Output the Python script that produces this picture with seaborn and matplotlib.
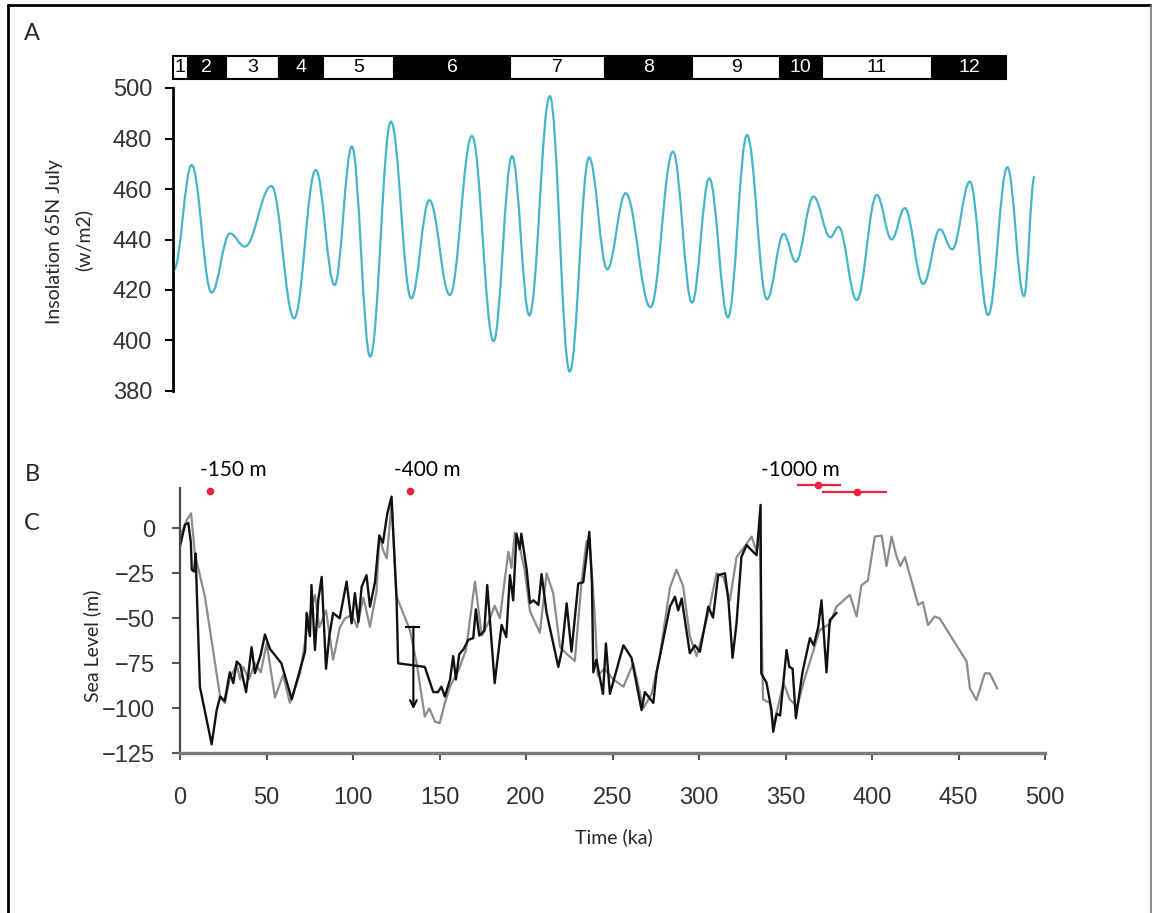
import numpy as np
import pandas as pd
import matplotlib
matplotlib.use("Agg")
import matplotlib.pyplot as plt
import seaborn as sns
from matplotlib.path import Path
from matplotlib.patches import PathPatch
from matplotlib.lines import Line2D

# ---------------- data ----------------
# Marine isotope stages (boundaries in ka) and labels
stage_bounds = [0, 8.4, 30.6, 61, 86.5, 127.7, 194.8, 249.7, 300, 350.9, 374.9, 438.7, 481.5]
stage_labels = ["1", "2", "3", "4", "5", "6", "7", "8", "9", "10", "11", "12"]

# Insolation 65N July: turning points (ka, W/m2)
ins_t = [0.5, 10.8, 22.3, 32.9, 41.5, 56.9, 70, 82.5, 93.4, 103.4, 114, 126, 137.7, 148.2,
         160, 172.8, 185.3, 196, 206, 217.8, 229.3, 240.5, 251, 261.6, 276, 289, 300, 310,
         320.8, 331.8, 343.3, 353, 360, 370.2, 380, 384.7, 395.2, 406.8, 415.4, 423, 433.7,
         443.3, 450.4, 460.6, 471.2, 482.3, 491.9, 498]
ins_v = [428, 469.5, 419, 442.4, 437.2, 461.2, 408.8, 467.5, 422, 476.8, 393.6, 486.7, 416.7,
         455.6, 418, 481, 399.8, 473, 410, 496.8, 387.7, 472.5, 428.2, 458.3, 413.2, 474.8,
         415, 464.2, 409.2, 481.4, 416.3, 442.2, 431.2, 457, 440.9, 445, 416, 457.6, 440,
         452.4, 422.4, 444, 436.1, 462.9, 410.1, 468.6, 417.6, 465]

# Sea level record (black)
black_t = [0, 2.9, 4.8, 6.3, 6.8, 8.2, 9, 11.5, 18.3, 21.2, 23.2, 25.8, 28.8, 30.8, 32.8, 34.8,
           38.2, 41.4, 43.3, 46.7, 49.1, 52, 58.6, 64.6, 68.4, 72.3, 73.2, 75.1, 76, 78, 79.9,
           81.9, 84.4, 86.3, 88.5, 92.3, 96.3, 99.2, 101.1, 103.1, 105, 107.8, 109.8, 112.7,
           115.2, 117.3, 119.8, 122.3, 123.3, 125.2, 126.1, 141.5, 146.4, 149.1, 151.1, 153.1,
           156.1, 157.9, 159.5, 161.4, 164, 166.6, 169.5, 171, 173, 175.9, 177.6, 181.9, 185.9,
           188.6, 190.7, 192.6, 194.5, 196.4, 197.3, 200.4, 202.3, 204.3, 207.2, 209, 211.9,
           218.7, 220.7, 223.5, 226.3, 230.2, 233.1, 236.6, 238.1, 238.9, 240.7, 244.5, 246.2,
           248.5, 256.3, 261, 266.8, 268.7, 273.6, 275.4, 283.2, 286.1, 288, 290, 294.7, 297.6,
           300.5, 305.4, 308.1, 311.1, 315, 317.1, 319.4, 321.7, 324.5, 327.5, 331.3, 333.3,
           335.6, 336, 339, 341.9, 342.9, 344.9, 346.9, 350.6, 352.2, 354.1, 356, 359.8, 364.1,
           366.3, 368.9, 370.8, 373.7, 375.6, 379.5]
black_sl = [-10, 2, 3, -8, -23, -24, -14, -88, -120, -101, -93.5, -96, -80, -86, -74, -76,
            -91, -66, -80.5, -70, -59, -67, -75, -95, -82, -68.5, -47, -60, -31.5, -67.6, -40,
            -27, -78, -60, -47, -50, -29.6, -52.8, -36, -52, -32.5, -26, -43.5, -30,
            -4, -8, 8, 17.6, -3, -40, -75, -77, -91, -91, -88, -93.5,
            -84, -71, -84, -70, -67, -62, -61, -45, -59.6, -57, -31.5, -86, -53.7,
            -60.4, -26, -40, -3, -11.5, -3, -23, -41.5, -40, -42.6, -25.4, -47,
            -77, -68, -41.7, -68.5, -30.6, -30, -2, -30, -80, -73, -92, -64,
            -92, -65, -72, -101, -91, -97, -80.6, -43.5, -38, -45.6, -39, -69.4, -65,
            -68.6, -43.5, -49.6, -26, -25, -41, -72, -52.6, -16, -9.3, -13, -15,
            13, -80.6, -85.7, -101, -113, -103, -104, -67.6, -77, -78, -105.5, -80, -61,
            -65, -55, -40, -80, -51, -47]

# Sea level record (grey)
grey_t = [0, 3.9, 6.4, 8.6, 14.4, 23.2, 26, 28.8, 32.8, 34.8, 36.6, 39.8, 43.3, 46.7, 50.1,
          54.9, 59.6, 63.5, 69.4, 74.2, 78, 80.5, 84.4, 88.5, 92.4, 95.4, 99.4, 102.4, 106,
          109.8, 113.6, 115.3, 117.3, 119.5, 122.3, 125.2, 132.9, 136.8, 141.5, 144.1, 147.4,
          150.1, 153.1, 156.1, 161.4, 165.3, 170.5, 172.5, 174.5, 178.4, 181.9, 184.9, 189.8,
          191.6, 193.5, 195.9, 199.2, 202.3, 208, 211.9, 215.7, 219.7, 223.7, 228.2, 232.1,
          235, 237.1, 239.6, 241.5, 245.2, 250.5, 256.3, 262, 267.8, 272.6, 277.3, 283.2, 287,
          290.8, 294.7, 298.6, 303.4, 306.2, 310.1, 314, 317.9, 321.7, 326.5, 330.4, 333.3,
          335.2, 337, 340.9, 342.9, 348.9, 352.4, 356.8, 360.6, 364.5, 369.8, 375.6, 379.5,
          385.3, 387.2, 391.1, 393.9, 397.6, 401.6, 405.6, 408.4, 411.3, 414, 416.3, 419,
          426.7, 429.4, 432.4, 436.2, 439.1, 454.7, 456.6, 460.4, 465.2, 468.1, 472.4]
grey_sl = [-4.6, 4.6, 8.3, -14, -38, -93.5, -97, -83, -76, -84, -77, -84, -75, -80, -64,
           -94, -81.5, -97, -80.6, -51, -37, -55, -45.6, -73, -55, -50, -48, -55, -38.5,
           -54.7, -35, -4, -12, -16.7, 14, -38, -56.5, -75, -104.6, -100, -107.4,
           -108.3, -97, -88, -78, -67.6, -29.6, -45, -59.6, -52, -43, -50, -13,
           -22, -2.4, -8.3, -23, -46, -58, -25, -36, -66, -70, -73.7, -30,
           -7, -12, -46, -82, -78, -84, -88, -75, -100, -92, -71, -33, -23,
           -32, -60, -71, -54.6, -43.5, -25, -27, -40, -16, -10, -4.6, -13,
           -4, -95, -97, -110, -86, -95, -99, -85, -73, -56.5, -53, -43.5,
           -38.5, -37, -49, -31.7, -29, -4.6, -4, -21, -4.6, -15, -21, -16,
           -42.6, -41, -53.7, -49, -50, -74, -89, -95.4, -80.6, -80.6, -89]

# Paleo shoreline markers (B)
dot_t = [17.3, 133.0]
dot_sl = [20.7, 20.7]
bar_t = [369.0, 391.2]
bar_sl = [24.0, 20.0]
bar_lo = [12.5, 19.9]
bar_hi = [13.0, 17.3]
depth_labels = ["-150 m", "-400 m", "-1000 m"]
depth_label_t = [30.6, 142.8, 358.4]

# Correction marker near 135 ka
corr_t = 134.9
corr_top = -54.6
corr_bottom = -100.5
corr_cap = [130.0, 139.0]

# ---------------- figure ----------------
sns.set_theme(style="white")
plt.rcParams["font.family"] = ["Liberation Sans", "DejaVu Sans"]

W, H = 1152, 913
fig = plt.figure(figsize=(W / 100, H / 100), dpi=100)

def box(l, t, r, b):
    return [l / W, 1 - b / H, (r - l) / W, (b - t) / H]

ax_top = fig.add_axes(box(173, 88, 1038, 391))
ax_stage = fig.add_axes(box(173, 56, 1038, 79))
ax_bot = fig.add_axes(box(180, 488, 1045, 753.3))

tick_col = "#333333"
label_font = ["Lato", "DejaVu Sans"]

# ---- Panel A: insolation ----
teal = "#45b5ca"
k = 0.38
verts = [(ins_t[0], ins_v[0])]
codes = [Path.MOVETO]
for i in range(len(ins_t) - 1):
    dx = ins_t[i + 1] - ins_t[i]
    verts += [(ins_t[i] + k * dx, ins_v[i]), (ins_t[i + 1] - k * dx, ins_v[i + 1]),
              (ins_t[i + 1], ins_v[i + 1])]
    codes += [Path.CURVE4] * 3
ax_top.add_patch(PathPatch(Path(verts, codes), facecolor="none", edgecolor=teal, lw=1.6))
ax_top.set_xlim(0, 500)
ax_top.set_ylim(380, 500)
ax_top.set_yticks(np.arange(380, 501, 20))
ax_top.set_xticks([])
for s in ["top", "right", "bottom"]:
    ax_top.spines[s].set_visible(False)
ax_top.spines["left"].set_color("black")
ax_top.spines["left"].set_linewidth(2)
ax_top.tick_params(axis="y", direction="out", length=6, width=1.5, color="black",
                   labelsize=17, labelcolor=tick_col, pad=9, left=True)
ax_top.patch.set_alpha(0)

# ---- Stage bar ----
starts = stage_bounds[:-1]
widths = np.diff(stage_bounds)
cols = ["white" if i % 2 == 0 else "black" for i in range(len(starts))]
ax_stage.barh(y=0, width=widths, left=starts, height=1, color=cols,
              edgecolor="black", linewidth=1.5, clip_on=False)
for i, lab in enumerate(stage_labels):
    ax_stage.text(starts[i] + widths[i] / 2, -0.02, lab, ha="center", va="center",
                  fontsize=14, color=("black" if cols[i] == "white" else "white"),
                  family=["Liberation Sans Narrow", "Liberation Sans"])
ax_stage.set_xlim(0, 500)
ax_stage.set_ylim(-0.5, 0.5)
ax_stage.axis("off")

# ---- Panel C: sea level ----
df_grey = pd.DataFrame({"Time (ka)": grey_t, "Sea Level (m)": grey_sl})
df_black = pd.DataFrame({"Time (ka)": black_t, "Sea Level (m)": black_sl})
sns.lineplot(data=df_grey, x="Time (ka)", y="Sea Level (m)", ax=ax_bot, color="#8c8c8c",
             lw=1.6, sort=False, estimator=None)
sns.lineplot(data=df_black, x="Time (ka)", y="Sea Level (m)", ax=ax_bot, color="#111111",
             lw=1.7, sort=False, estimator=None)

# correction arrow
ax_bot.hlines(corr_top, corr_cap[0], corr_cap[1], color="black", lw=1.5)
ax_bot.annotate("", xy=(corr_t, corr_bottom), xytext=(corr_t, corr_top),
                arrowprops=dict(arrowstyle="->", color="black", lw=1.5,
                                shrinkA=0, shrinkB=0, mutation_scale=12))

# shoreline markers (B)
red = "#e8243c"
ax_bot.plot(dot_t, dot_sl, "o", color=red, ms=4.5, clip_on=False)
ax_bot.errorbar(bar_t, bar_sl, xerr=[bar_lo, bar_hi], fmt="o", color=red, ms=4.5,
                lw=1.6, capsize=0, clip_on=False)
for lab, t in zip(depth_labels, depth_label_t):
    ax_bot.text(t, 32.4, lab, ha="center", va="center", fontsize=15, color="black",
                family=label_font, clip_on=False)

ax_bot.set_xlim(0, 500)
ax_bot.set_ylim(-125, 22.4)
ax_bot.set_xticks(np.arange(0, 501, 50))
ax_bot.set_yticks(np.arange(-125, 1, 25))
ax_bot.set_xlabel("")
ax_bot.set_ylabel("")
for s in ["top", "right"]:
    ax_bot.spines[s].set_visible(False)
ax_bot.spines["bottom"].set_color("#7a7a7a")
ax_bot.spines["bottom"].set_linewidth(2.4)
ax_bot.spines["left"].set_color("#4a4a4a")
ax_bot.spines["left"].set_linewidth(1.6)
ax_bot.tick_params(axis="x", direction="out", length=5, width=1.5, color="#555555",
                   labelsize=17, labelcolor=tick_col, pad=19, bottom=True)
ax_bot.tick_params(axis="y", direction="out", length=6, width=1.5, color="#555555",
                   labelsize=17, labelcolor=tick_col, pad=12, left=True)
ax_bot.patch.set_alpha(0)

# ---- text labels ----
fig.text(55 / W, 1 - 242 / H, "Insolation 65N July", rotation=90, ha="center", va="center",
         fontsize=14, family=label_font)
fig.text(83 / W, 1 - 240 / H, "(w/m2)", rotation=90, ha="center", va="center",
         fontsize=14, family=label_font)
fig.text(92 / W, 1 - 646 / H, "Sea Level (m)", rotation=90, ha="center", va="center",
         fontsize=14, family=label_font)
fig.text(614 / W, 1 - 837 / H, "Time (ka)", ha="center", va="center", fontsize=14,
         family=label_font)
for lab, y in zip(["A", "B", "C"], [33, 474, 524]):
    fig.text(32 / W, 1 - y / H, lab, ha="center", va="center", fontsize=17, family=label_font)

# ---- outer frame ----
fig.add_artist(Line2D([8 / W, 8 / W], [0, 1 - 5 / H], transform=fig.transFigure,
                      color="black", lw=2))
fig.add_artist(Line2D([8 / W, 1150.5 / W], [1 - 5 / H, 1 - 5 / H], transform=fig.transFigure,
                      color="black", lw=2))
fig.add_artist(Line2D([1150.5 / W, 1150.5 / W], [0, 1 - 5 / H], transform=fig.transFigure,
                      color="#777777", lw=1.2))

fig.savefig("out.png", dpi=100)
